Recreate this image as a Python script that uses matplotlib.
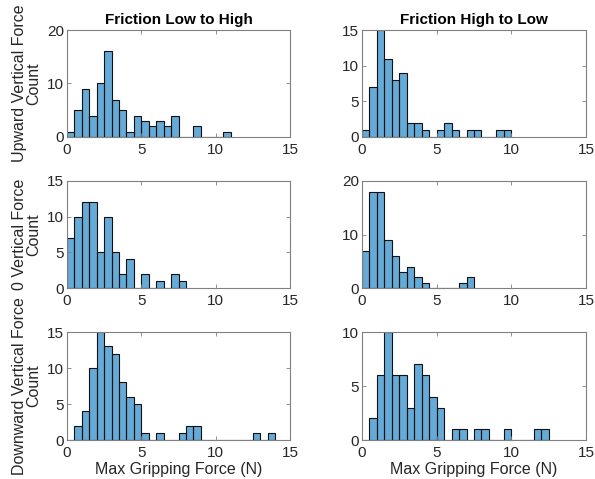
import numpy as np
import matplotlib.pyplot as plt

plt.rcParams['font.family'] = ['Liberation Sans', 'DejaVu Sans']

# histogram bins: 0.5 N wide, starting at 0
bin_width = 0.5
bin_left = np.arange(0, 15, bin_width)

# counts per bin, rows = vertical force, cols = friction order
up_low_high = [1, 5, 9, 4, 10, 16, 7, 5, 1, 4, 3, 2, 3, 2, 4, 0, 0, 2, 0, 0, 0, 1]
up_high_low = [1, 7, 15, 11, 8, 9, 2, 2, 1, 0, 1, 2, 1, 0, 1, 1, 0, 0, 1, 1]
zero_low_high = [7, 10, 12, 12, 5, 10, 5, 2, 4, 0, 2, 0, 1, 0, 2, 1]
zero_high_low = [7, 18, 18, 9, 6, 3, 4, 2, 1, 0, 0, 0, 0, 1, 2]
down_low_high = [0, 2, 4, 10, 15, 13, 12, 8, 6, 5, 1, 0, 1, 0, 0, 1, 2, 2,
                 0, 0, 0, 0, 0, 0, 0, 1, 0, 1]
down_high_low = [0, 2, 6, 10, 6, 6, 3, 7, 6, 4, 3, 0, 1, 1, 0, 1, 1, 0, 0, 1,
                 0, 0, 0, 1, 1]

col_titles = ['Friction Low to High', 'Friction High to Low']
row_labels = ['Upward Vertical Force', '0 Vertical Force', 'Downward Vertical Force']
xlabel = 'Max Gripping Force (N)'
yticks = [[[0, 10, 20], [0, 5, 10, 15]],
          [[0, 5, 10, 15], [0, 10, 20]],
          [[0, 5, 10, 15], [0, 5, 10]]]

counts = [[up_low_high, up_high_low],
          [zero_low_high, zero_high_low],
          [down_low_high, down_high_low]]

W, H = 595, 479
fig = plt.figure(figsize=(W / 100, H / 100), dpi=100)

# axes boxes in pixels: left, right / top, bottom
col_x = [(67, 290), (362, 586)]
row_y = [(30, 137), (181, 288), (332, 440)]

for r in range(3):
    for c in range(2):
        x0, x1 = col_x[c]
        y0, y1 = row_y[r]
        ax = fig.add_axes([x0 / W, 1 - y1 / H, (x1 - x0) / W, (y1 - y0) / H])
        vals = counts[r][c]
        ax.bar(bin_left[:len(vals)], vals, width=bin_width, align='edge',
               color='#0072BD', alpha=0.6, linewidth=0)
        # edges fully opaque
        ax.bar(bin_left[:len(vals)], vals, width=bin_width, align='edge',
               fill=False, edgecolor='#111111', linewidth=0.8)
        ax.set_xlim(0, 15)
        yt = yticks[r][c]
        ax.set_ylim(0, yt[-1])
        ax.set_yticks(yt)
        ax.set_xticks([0, 5, 10, 15])
        ax.tick_params(direction='in', length=3, width=0.6, color='#808080',
                       labelcolor='#262626', labelsize=11, top=True, right=True, pad=2)
        ax.tick_params(axis='x', pad=4)
        for s in ax.spines.values():
            s.set_color('#808080')
            s.set_linewidth(0.8)
        if r == 0:
            ax.set_title(col_titles[c], fontsize=11, fontweight='bold', pad=4)
        if c == 0:
            ax.set_ylabel(row_labels[r] + '\nCount', fontsize=11.5, color='#262626',
                          linespacing=1.0, labelpad=4)
        if r == 2:
            ax.set_xlabel(xlabel, fontsize=11.5, color='#262626', labelpad=2)

fig.savefig('out.png', dpi=100)
